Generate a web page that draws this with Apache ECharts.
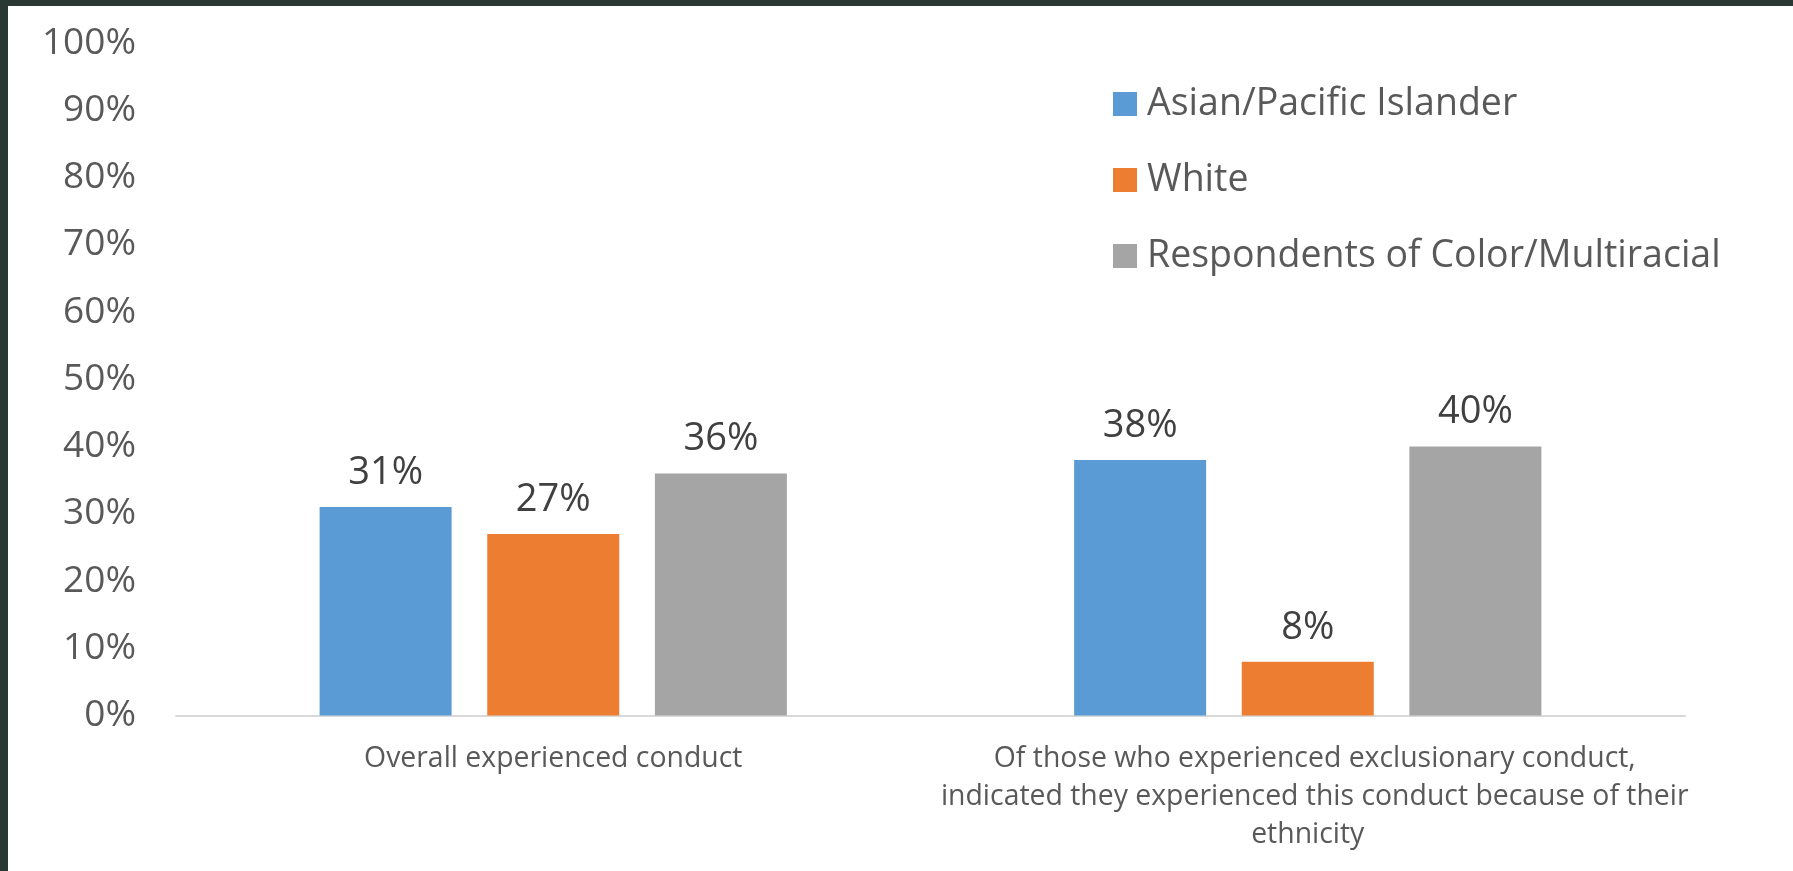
<!DOCTYPE html>
<html>
<head>
<meta charset="utf-8">
<script src="https://cdn.jsdelivr.net/npm/echarts@6/dist/echarts.min.js"></script>
<style>
  html, body { margin: 0; padding: 0; background: #293832; width: 1793px; height: 871px; overflow: hidden; }
  #chart { position: absolute; left: 8px; top: 6px; width: 1785px; height: 865px; background: #ffffff; }
</style>
</head>
<body>
<div id="chart"></div>
<script>
// Survey groups and categories
const categories = [
  'Overall experienced conduct',
  'Of those who experienced exclusionary conduct,\nindicated they experienced this conduct because of their\nethnicity'
];
const seriesNames = ['Asian/Pacific Islander', 'White', 'Respondents of Color/Multiracial'];
const asianPacific = [31, 38];
const white = [27, 8];
const colorMultiracial = [36, 40];
const seriesColors = ['#5B9BD5', '#ED7D31', '#A5A5A5'];
const yTicks = [0, 10, 20, 30, 40, 50, 60, 70, 80, 90, 100];

const FONT = '"Open Sans", "Noto Sans", sans-serif';
const chart = echarts.init(document.getElementById('chart'), null, { renderer: 'canvas' });

function barSeries(name, data, color) {
  return {
    name: name,
    type: 'bar',
    data: data,
    barWidth: 132,
    barGap: '27%',
    itemStyle: { color: color },
    label: {
      show: true,
      position: 'top',
      distance: 15,
      formatter: '{c}%',
      fontFamily: FONT,
      fontSize: 38,
      color: '#404040'
    }
  };
}

// wrapped lines sit a little to the right of the final line
function categoryLabel(value) {
  const lines = value.split('\n');
  return lines.map(function (line, i) {
    return (i < lines.length - 1 && lines.length > 1) ? '{w|' + line + '}' : '{n|' + line + '}';
  }).join('\n');
}

const labelText = { fontFamily: FONT, fontSize: 28.4, lineHeight: 38, color: '#595959' };

chart.setOption({
  animation: false,
  backgroundColor: '#ffffff',
  grid: { left: 168, right: 108, top: 37, bottom: 155.5, containLabel: false },
  legend: {
    orient: 'vertical',
    left: 1100,
    top: 74,
    icon: 'rect',
    itemWidth: 24,
    itemHeight: 24,
    itemGap: 38,
    data: seriesNames,
    textStyle: {
      fontFamily: FONT,
      fontSize: 37.5,
      lineHeight: 36,
      color: '#595959',
      padding: [0, 0, 0, 5]
    }
  },
  xAxis: {
    type: 'category',
    data: categories,
    axisLine: { lineStyle: { color: '#d9d9d9', width: 2 } },
    axisTick: { show: false },
    axisLabel: Object.assign({
      interval: 0,
      margin: 24,
      align: 'center',
      formatter: categoryLabel,
      rich: {
        w: Object.assign({ padding: [0, 0, 0, 14] }, labelText),
        n: Object.assign({}, labelText)
      }
    }, labelText)
  },
  yAxis: {
    type: 'value',
    min: yTicks[0],
    max: yTicks[yTicks.length - 1],
    interval: 10,
    splitLine: { show: false },
    axisLine: { show: false },
    axisTick: { show: false },
    axisLabel: {
      margin: 40,
      fontFamily: FONT,
      fontSize: 37,
      color: '#595959',
      formatter: '{value}%'
    }
  },
  series: [
    barSeries(seriesNames[0], asianPacific, seriesColors[0]),
    barSeries(seriesNames[1], white, seriesColors[1]),
    barSeries(seriesNames[2], colorMultiracial, seriesColors[2])
  ]
});
</script>
</body>
</html>
